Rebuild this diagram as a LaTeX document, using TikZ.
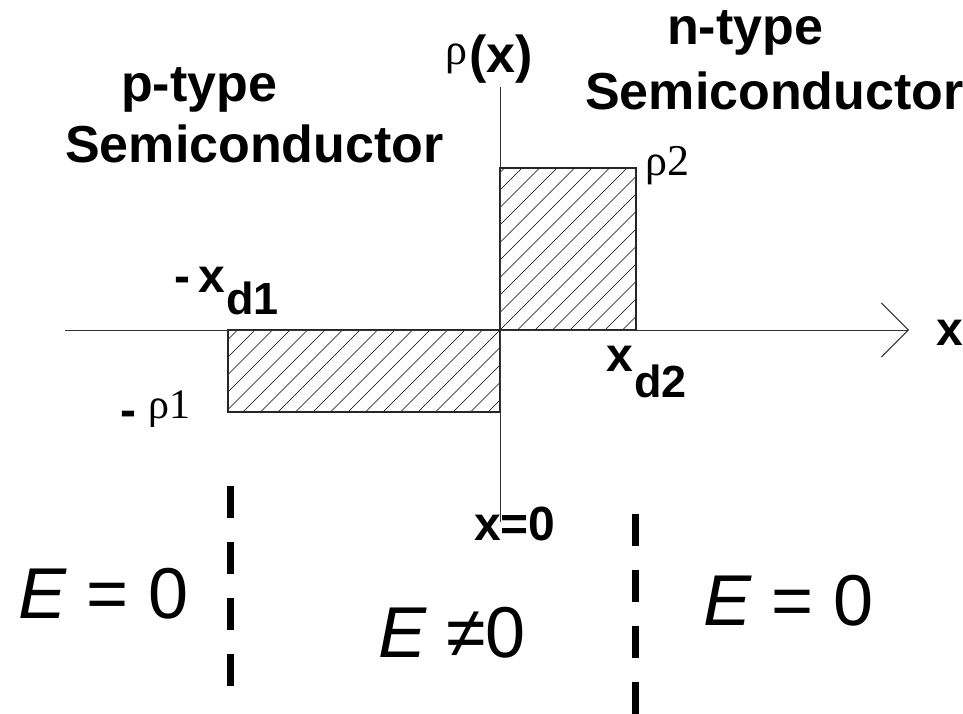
\documentclass[tikz,border=0pt]{standalone}
\usepackage{fontspec}
\setmainfont{Liberation Sans}
\newfontfamily\grfont{Liberation Serif}
\usetikzlibrary{arrows.meta}
\begin{document}
\begin{tikzpicture}[x=1pt,y=-1pt,
  txt/.style={inner sep=0pt, anchor=base west},
  head/.style={txt, font=\fontsize{52}{62}\selectfont\bfseries},
  lab/.style={txt, font=\fontsize{48}{58}\selectfont\bfseries},
  sub/.style={txt, font=\fontsize{45}{54}\selectfont\bfseries},
  grk/.style={txt, font=\fontsize{44}{52}\selectfont\grfont},
  big/.style={txt, font=\fontsize{72}{86}\selectfont},
  axis/.style={line width=0.9pt, draw=black!80},
  box/.style={line width=1.1pt, draw=black!85},
  hatch/.style={line width=0.6pt},
  divider/.style={line width=7pt, dash pattern=on 32pt off 24pt}
]
\useasboundingbox (0,0) rectangle (963,714);
% key coordinates
\coordinate (O) at (500,330);
\coordinate (xl) at (65,330);
\coordinate (xr) at (909,330);
\coordinate (yt) at (500,87);
\coordinate (yb) at (500,522);
% hatched rectangles
\begin{scope}
  \clip (500,168) rectangle (636,330);
  \foreach \k in {-12,...,12} {
    \pgfmathsetmacro{\c}{830+17.5*\k}
    \draw[hatch] (\c-340,340) -- (\c-160,160);
  }
\end{scope}
\begin{scope}
  \clip (228,330) rectangle (500,412);
  \foreach \k in {-18,...,6} {
    \pgfmathsetmacro{\c}{830+17.5*\k}
    \draw[hatch] (\c-420,420) -- (\c-320,320);
  }
\end{scope}
\draw[box] (500,330) rectangle (636,168);
\draw[box] (228,330) rectangle (500,412);
% axes
\draw[axis, -{Straight Barb[length=27pt,width=54pt,line width=0.9pt]}] (xl) -- (xr);
\draw[axis] (yb) -- (yt);
% dividers
\coordinate (d1t) at (230,486);
\coordinate (d1b) at (230,700);
\coordinate (d2t) at (635,514);
\coordinate (d2b) at (635,730);
\begin{scope}
\clip (0,0) rectangle (963,714);
\draw[divider] (d1t) -- (d1b);
\draw[divider] (d2t) -- (d2b);
\end{scope}
% headings
\node[head] (ptype) at (121,102) {p-type};
\node[head] (psemi) at (65,163) {Semiconductor};
\node[head] (ntype) at (667,45) {n-type};
\node[head] (nsemi) at (585,110) {Semiconductor};
% axis labels
\node[grk] (rho) at (445,65) {ρ};
\node[txt, font=\fontsize{52}{62}\selectfont\bfseries] (rhox) at (469,73) {(x)};
\node[grk] (rho2) at (645,176) {ρ2};
\node[lab] (m1) at (120,426) {-};
\node[grk, font=\fontsize{42}{50}\selectfont\grfont] (rho1) at (148,418) {ρ1};
\node[lab] (m2) at (174,292) {-};
\node[lab] (xd1) at (198,292) {x};
\node[sub] (d1) at (226,314) {d1};
\node[lab] (xd2) at (606,371) {x};
\node[sub] (d2) at (634,397) {d2};
\node[lab] (xlab) at (936,345) {x};
\node[lab] (x0) at (474,540) {x=0};
% field labels
\node[big] (e1) at (18,618) {\itshape E\upshape\ = 0};
\node[big] (e2) at (378,657) {\itshape E\upshape\ ≠0};
\node[big] (e3) at (703,625) {\itshape E\upshape\ = 0};
\end{tikzpicture}
\end{document}
